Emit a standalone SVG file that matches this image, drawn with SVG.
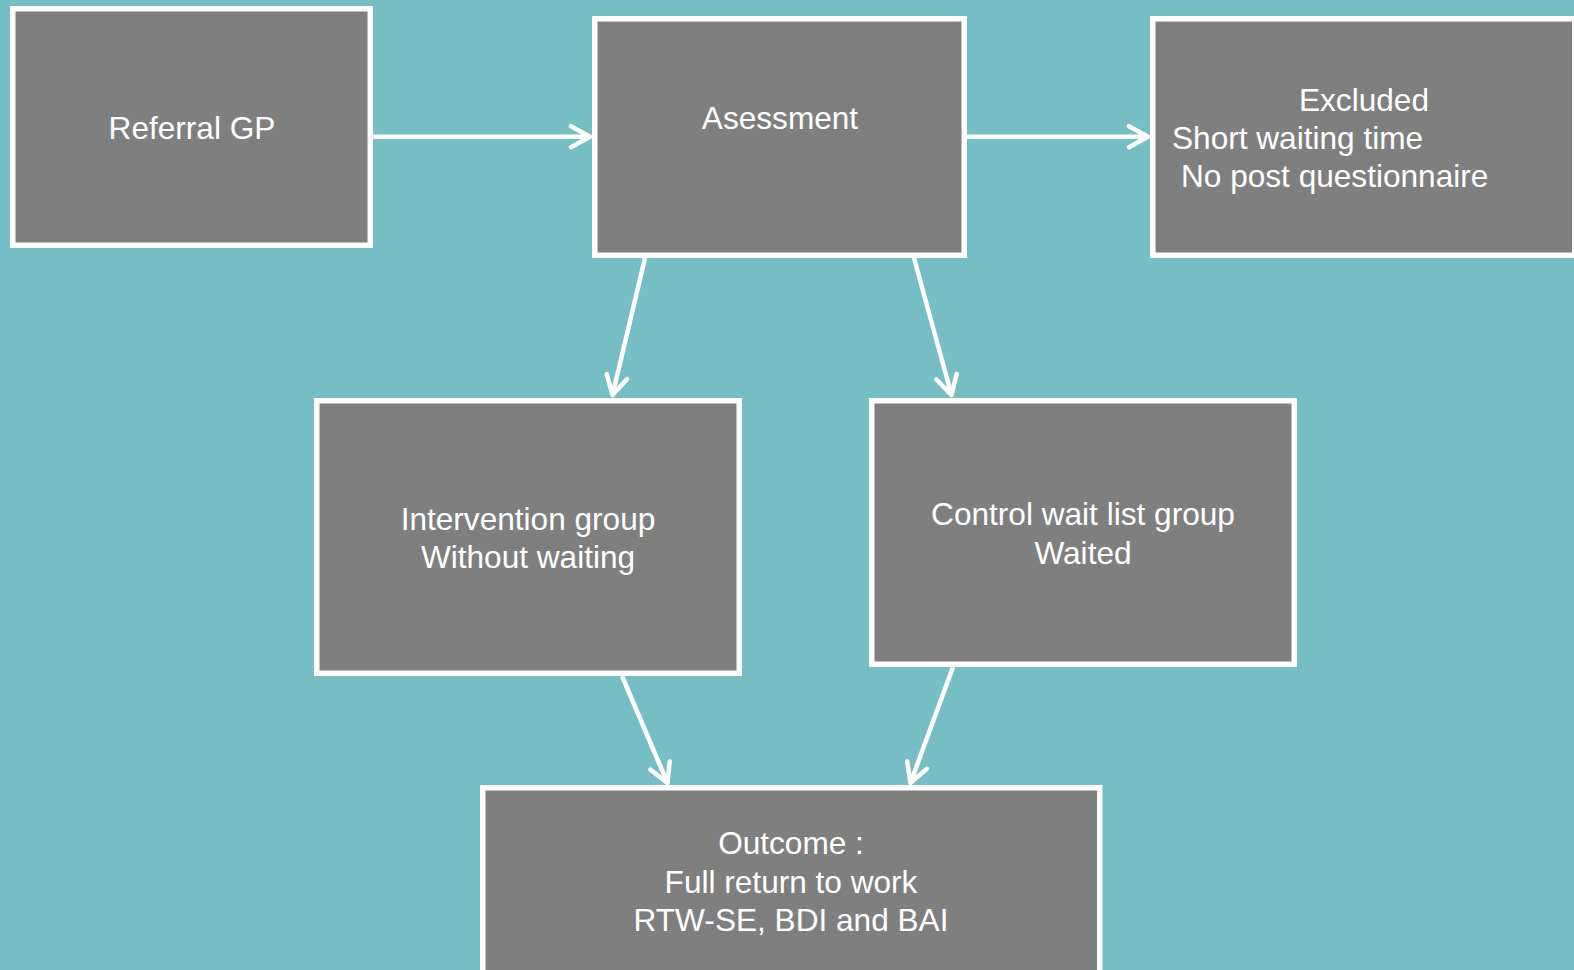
<svg xmlns="http://www.w3.org/2000/svg" width="1574" height="970" viewBox="0 0 1574 970">
  <style>
    .box { fill: #7f7f7f; stroke: #ffffff; stroke-width: 5.5; }
    .lbl { font-family: "Liberation Sans", Arial, sans-serif; font-size: 31.6px; fill: #ffffff; }
    .mid { text-anchor: middle; }
    .conn { stroke: #ffffff; stroke-width: 4.5; fill: none; marker-end: url(#ah); }
  </style>
  <defs>
    <marker id="ah" markerUnits="userSpaceOnUse" markerWidth="40" markerHeight="40" viewBox="-30 -20 40 40" refX="0" refY="0" orient="auto" overflow="visible">
      <path d="M-19,-10.5 L0,0 L-19,10.5" fill="none" stroke="#ffffff" stroke-width="4.5" stroke-linecap="round" stroke-linejoin="round"/>
    </marker>
  </defs>
  <rect x="0" y="0" width="1574" height="970" fill="#77bdc4"/>

  <g id="referral">
    <rect class="box" x="12.75" y="8.75" width="357.5" height="236.5"/>
    <text class="lbl mid" x="192" y="139">Referral GP</text>
  </g>
  <g id="assessment">
    <rect class="box" x="594.75" y="18.75" width="369.5" height="236.5"/>
    <text class="lbl mid" x="780" y="129">Asessment</text>
  </g>
  <g id="excluded">
    <rect class="box" x="1152.75" y="18.75" width="422" height="236.5"/>
    <text class="lbl mid" x="1364" y="111">Excluded</text>
    <text class="lbl" x="1172" y="149.3">Short waiting time</text>
    <text class="lbl" x="1181" y="187">No post questionnaire</text>
  </g>
  <g id="intervention">
    <rect class="box" x="316.75" y="400.75" width="422.5" height="272.5"/>
    <text class="lbl mid" x="528" y="529.5">Intervention group</text>
    <text class="lbl mid" x="528" y="567.5">Without waiting</text>
  </g>
  <g id="control">
    <rect class="box" x="871.75" y="400.75" width="422.5" height="263.5"/>
    <text class="lbl mid" x="1083" y="525">Control wait list group</text>
    <text class="lbl mid" x="1083" y="564">Waited</text>
  </g>
  <g id="outcome">
    <rect class="box" x="482.75" y="787.75" width="617" height="200"/>
    <text class="lbl mid" x="791" y="853.5">Outcome :</text>
    <text class="lbl mid" x="791" y="892.5">Full return to work</text>
    <text class="lbl mid" x="791" y="930.5">RTW-SE, BDI and BAI</text>
  </g>

  <g id="connectors">
    <line class="conn" x1="373" y1="136.7" x2="590" y2="136.7"/>
    <line class="conn" x1="967" y1="136.7" x2="1148" y2="136.7"/>
    <line class="conn" x1="645" y1="258" x2="612.5" y2="395"/>
    <line class="conn" x1="914" y1="258" x2="951.5" y2="395"/>
    <line class="conn" x1="622" y1="676" x2="667.5" y2="783"/>
    <line class="conn" x1="953" y1="667" x2="910.5" y2="783"/>
  </g>
</svg>
